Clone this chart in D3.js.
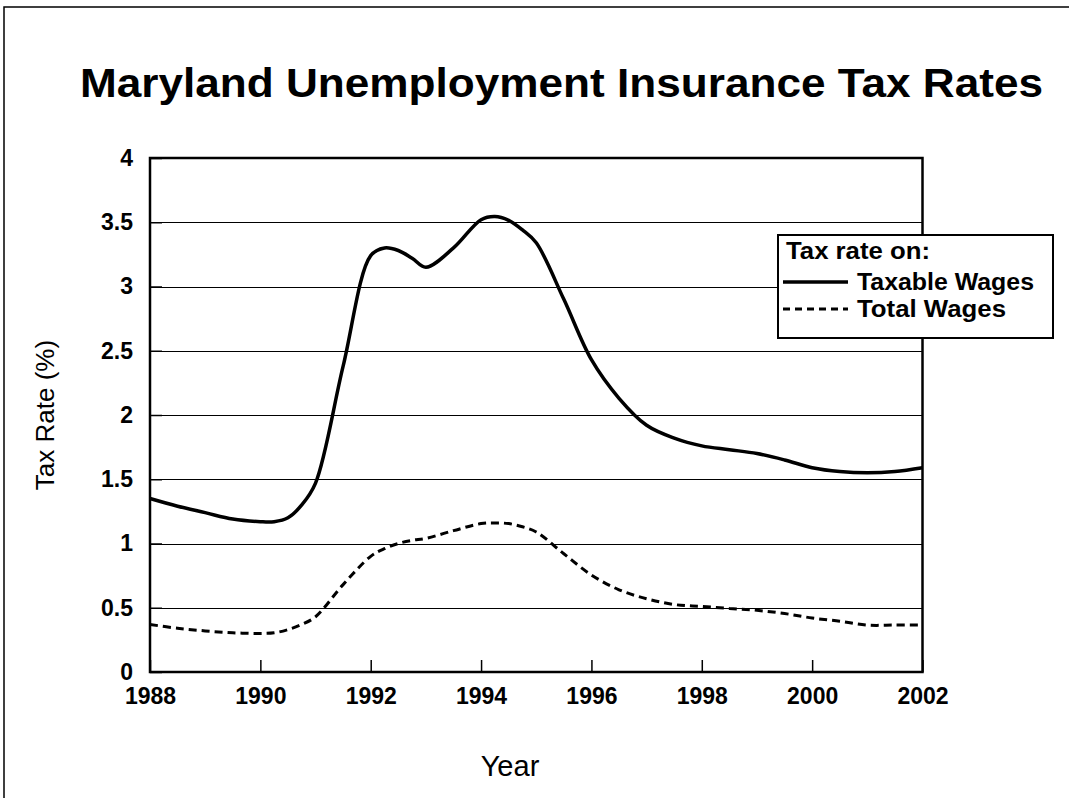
<!DOCTYPE html>
<html>
<head>
<meta charset="utf-8">
<script src="https://cdn.jsdelivr.net/npm/d3@7"></script>
<style>
  html, body { margin: 0; padding: 0; background: #fff; }
  svg { display: block; font-family: "Liberation Sans", Arial, sans-serif; }
</style>
</head>
<body>
<svg id="chart" width="1069" height="798"></svg>
<script>
const years = [1988, 1988.5, 1989, 1989.5, 1990, 1990.25, 1990.5, 1990.75, 1991, 1991.5,
  1992, 1992.25, 1992.5, 1992.75, 1993, 1993.5, 1994, 1994.25, 1994.5, 1994.75,
  1995, 1995.5, 1996, 1996.5, 1997, 1997.5, 1998, 1998.5, 1999, 1999.5,
  2000, 2000.5, 2001, 2001.5, 2002];
const taxableWages = [1.35, 1.29, 1.24, 1.19, 1.17, 1.17, 1.20, 1.30, 1.47, 2.38,
  3.24, 3.30, 3.28, 3.22, 3.15, 3.30, 3.52, 3.545, 3.515, 3.44,
  3.34, 2.90, 2.43, 2.13, 1.92, 1.82, 1.76, 1.73, 1.70, 1.65,
  1.59, 1.56, 1.55, 1.56, 1.59];
const totalWages = [0.37, 0.34, 0.32, 0.305, 0.30, 0.305, 0.33, 0.37, 0.43, 0.68,
  0.90, 0.96, 1.00, 1.025, 1.04, 1.10, 1.155, 1.16, 1.155, 1.13,
  1.09, 0.92, 0.755, 0.64, 0.57, 0.525, 0.51, 0.495, 0.48, 0.455,
  0.42, 0.395, 0.365, 0.365, 0.365];
const xTickValues = [1988, 1990, 1992, 1994, 1996, 1998, 2000, 2002];
const yTickValues = [0, 0.5, 1, 1.5, 2, 2.5, 3, 3.5, 4];
const gridValues = [0.5, 1, 1.5, 2, 2.5, 3, 3.5];
const seriesNames = ["Taxable Wages", "Total Wages"];

const svg = d3.select("#chart");
const x = d3.scaleLinear().domain([1988, 2002]).range([150, 922.5]);
const y = d3.scaleLinear().domain([0, 4]).range([672, 158]);

// outer frame (top and left visible)
svg.append("rect").attr("x", 4).attr("y", 7).attr("width", 1080).attr("height", 820)
  .attr("fill", "none").attr("stroke", "#000").attr("stroke-width", 1.5);

// title
svg.append("text").attr("x", 80).attr("y", 97)
  .attr("font-size", 40).attr("font-weight", "bold")
  .attr("textLength", 963).attr("lengthAdjust", "spacingAndGlyphs")
  .text("Maryland Unemployment Insurance Tax Rates");

// gridlines
svg.append("g").selectAll("line").data(gridValues).join("line")
  .attr("x1", x(1988)).attr("x2", x(2002))
  .attr("y1", d => Math.round(y(d)) + 0.5).attr("y2", d => Math.round(y(d)) + 0.5)
  .attr("stroke", "#000").attr("stroke-width", 1);

// axes
const fmtY = d => d === 0 ? "0" : String(d);
const yAxis = svg.append("g").attr("transform", `translate(${x(1988)},0)`)
  .call(d3.axisLeft(y).tickValues(yTickValues).tickFormat(fmtY).tickSize(-12).tickPadding(17));
const xAxis = svg.append("g").attr("transform", `translate(0,${y(0)})`)
  .call(d3.axisBottom(x).tickValues(xTickValues).tickFormat(d3.format("d")).tickSize(-12).tickPadding(16));
[yAxis, xAxis].forEach(a => {
  a.select(".domain").remove();
  a.selectAll(".tick line").attr("stroke", "#000").attr("stroke-width", 1.5);
  a.selectAll(".tick text").attr("font-size", 23).attr("font-weight", "bold")
    .attr("fill", "#000").attr("font-family", "'Liberation Sans', Arial, sans-serif");
});

// plot border
svg.append("rect").attr("x", x(1988)).attr("y", y(4))
  .attr("width", x(2002) - x(1988)).attr("height", y(0) - y(4))
  .attr("fill", "none").attr("stroke", "#000").attr("stroke-width", 2.5);

// lines
const line = vals => d3.line().x((d, i) => x(years[i])).y(d => y(d))
  .curve(d3.curveCatmullRom.alpha(0.5))(vals);
svg.append("path").attr("d", line(totalWages)).attr("fill", "none")
  .attr("stroke", "#000").attr("stroke-width", 3).attr("stroke-dasharray", "8,5");
svg.append("path").attr("d", line(taxableWages)).attr("fill", "none")
  .attr("stroke", "#000").attr("stroke-width", 3.5);

// axis titles
svg.append("text").attr("transform", "translate(54,415) rotate(-90)")
  .attr("text-anchor", "middle").attr("font-size", 26).text("Tax Rate (%)");
svg.append("text").attr("x", 510).attr("y", 776).attr("text-anchor", "middle")
  .attr("font-size", 29).text("Year");

// legend
const lg = svg.append("g");
lg.append("rect").attr("x", 778).attr("y", 235).attr("width", 275).attr("height", 103)
  .attr("fill", "#fff").attr("stroke", "#000").attr("stroke-width", 2);
lg.append("text").attr("x", 786).attr("y", 259).attr("font-size", 23).attr("font-weight", "bold")
  .attr("textLength", 144).attr("lengthAdjust", "spacingAndGlyphs")
  .text("Tax rate on:");
const legRows = [{name: seriesNames[0], dash: null, w: 3.5, yy: 282, len: 177},
                 {name: seriesNames[1], dash: "7,5", w: 3, yy: 309, len: 149}];
legRows.forEach(r => {
  lg.append("line").attr("x1", 783).attr("x2", 848).attr("y1", r.yy).attr("y2", r.yy)
    .attr("stroke", "#000").attr("stroke-width", r.w).attr("stroke-dasharray", r.dash);
  lg.append("text").attr("x", 857).attr("y", r.yy + 8).attr("font-size", 23)
    .attr("font-weight", "bold").attr("textLength", r.len).attr("lengthAdjust", "spacingAndGlyphs")
    .text(r.name);
});
</script>
</body>
</html>
